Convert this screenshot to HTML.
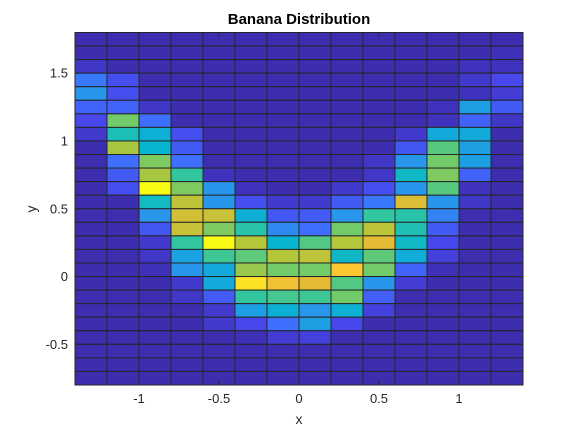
<!DOCTYPE html>
<html><head><meta charset="utf-8"><style>
body{margin:0;background:#fff;}
svg text{font-family:"Liberation Sans",sans-serif;}
</style></head><body>
<svg id="chart" width="577" height="433" viewBox="0 0 577 433" xmlns="http://www.w3.org/2000/svg">
<text x="299" y="24" text-anchor="middle" font-size="15" font-weight="bold" fill="#000">Banana Distribution</text>
<g id="cells"></g>
<rect x="75" y="32.5" width="448" height="352.5" fill="none" stroke="#262626" stroke-width="1"/>
<g id="ticks"></g>
<text x="299" y="424" text-anchor="middle" font-size="14" fill="#262626">x</text>
<text x="36" y="209" text-anchor="middle" font-size="14" fill="#262626" transform="rotate(-90 36 209)">y</text>
</svg>
<script>
const xEdges=[-1.4,-1.2,-1.0,-0.8,-0.6,-0.4,-0.2,0,0.2,0.4,0.6,0.8,1.0,1.2,1.4];
const yEdges=[1.8,1.7,1.6,1.5,1.4,1.3,1.2,1.1,1.0,0.9,0.8,0.7,0.6,0.5,0.4,0.3,0.2,0.1,0,-0.1,-0.2,-0.3,-0.4,-0.5,-0.6,-0.7,-0.8];
const values=[
[0.02,0.02,0.02,0.02,0.02,0.02,0.02,0.02,0.02,0.02,0.02,0.02,0.02,0.02],
[0.02,0.02,0.02,0.02,0.02,0.02,0.02,0.02,0.02,0.02,0.02,0.02,0.02,0.03],
[0.05,0.02,0.02,0.02,0.02,0.02,0.02,0.02,0.02,0.02,0.02,0.02,0.04,0.04],
[0.22,0.12,0.02,0.02,0.02,0.02,0.02,0.02,0.02,0.02,0.02,0.02,0.06,0.1],
[0.3,0.12,0.02,0.02,0.02,0.02,0.02,0.02,0.02,0.02,0.02,0.02,0.04,0.07],
[0.17,0.17,0.05,0.02,0.02,0.02,0.02,0.02,0.02,0.02,0.02,0.04,0.33,0.15],
[0.1,0.6,0.2,0.02,0.02,0.02,0.02,0.02,0.02,0.02,0.02,0.04,0.17,0.05],
[0.06,0.45,0.38,0.12,0.02,0.02,0.02,0.02,0.02,0.02,0.06,0.36,0.36,0.02],
[0.02,0.68,0.4,0.15,0.02,0.02,0.02,0.02,0.02,0.02,0.14,0.56,0.33,0.02],
[0.02,0.2,0.62,0.2,0.02,0.02,0.02,0.02,0.02,0.05,0.3,0.6,0.33,0.02],
[0.02,0.15,0.68,0.5,0.04,0.02,0.02,0.02,0.02,0.05,0.42,0.62,0.17,0.02],
[0.02,0.12,1.0,0.62,0.3,0.04,0.02,0.02,0.06,0.12,0.3,0.56,0.04,0.02],
[0.02,0.02,0.43,0.72,0.3,0.12,0.06,0.06,0.15,0.22,0.78,0.3,0.05,0.02],
[0.02,0.02,0.3,0.76,0.74,0.38,0.14,0.15,0.3,0.5,0.48,0.25,0.02,0.02],
[0.02,0.02,0.14,0.74,0.62,0.48,0.27,0.2,0.6,0.72,0.46,0.15,0.02,0.02],
[0.02,0.02,0.06,0.5,1.0,0.7,0.4,0.55,0.7,0.8,0.42,0.1,0.02,0.02],
[0.02,0.02,0.05,0.34,0.52,0.57,0.7,0.72,0.42,0.57,0.37,0.08,0.02,0.02],
[0.02,0.02,0.03,0.3,0.36,0.66,0.6,0.6,0.9,0.6,0.17,0.03,0.02,0.02],
[0.02,0.02,0.02,0.06,0.36,0.95,0.85,0.8,0.55,0.3,0.07,0.02,0.02,0.02],
[0.02,0.02,0.02,0.05,0.15,0.5,0.53,0.52,0.6,0.16,0.02,0.02,0.02,0.02],
[0.02,0.02,0.02,0.02,0.06,0.33,0.38,0.3,0.38,0.08,0.02,0.02,0.02,0.02],
[0.02,0.02,0.02,0.02,0.06,0.1,0.2,0.33,0.1,0.02,0.02,0.02,0.02,0.02],
[0.02,0.02,0.02,0.02,0.02,0.03,0.07,0.08,0.02,0.02,0.02,0.02,0.02,0.02],
[0.02,0.02,0.02,0.02,0.02,0.02,0.02,0.02,0.02,0.02,0.02,0.02,0.02,0.02],
[0.02,0.02,0.02,0.02,0.02,0.02,0.02,0.02,0.02,0.02,0.02,0.02,0.02,0.02],
[0.02,0.02,0.02,0.02,0.02,0.02,0.02,0.02,0.02,0.02,0.02,0.02,0.02,0.02]
];
const xTicks=[-1,-0.5,0,0.5,1];
const xTickLabels=["-1","-0.5","0","0.5","1"];
const yTicks=[-0.5,0,0.5,1,1.5];
const yTickLabels=["-0.5","0","0.5","1","1.5"];

const PL=75,PR=523,PT=32.5,PB=385;
const xMin=-1.4,xMax=1.4,yMin=-0.8,yMax=1.8;
function sx(v){return PL+(v-xMin)/(xMax-xMin)*(PR-PL);}
function sy(v){return PB-(v-yMin)/(yMax-yMin)*(PB-PT);}
const stops=[[58,38,160],[71,71,235],[62,111,255],[39,150,235],[8,181,208],[49,198,159],[113,203,105],[180,198,58],[228,188,52],[252,200,50],[249,251,21]];
function parula(t){t=Math.max(0,Math.min(1,t));const p=t*10,i=Math.min(9,Math.floor(p)),f=p-i;
const a=stops[i],b=stops[i+1];return `rgb(${a.map((c,k)=>Math.round(c+(b[k]-c)*f)).join(',')})`;}
const NS="http://www.w3.org/2000/svg";
const cells=document.getElementById('cells');
for(let r=0;r<values.length;r++){for(let c=0;c<values[r].length;c++){
const x0=sx(xEdges[c]),x1=sx(xEdges[c+1]),y0=sy(yEdges[r]),y1=sy(yEdges[r+1]);
const el=document.createElementNS(NS,'rect');
el.setAttribute('x',x0);el.setAttribute('y',y0);el.setAttribute('width',x1-x0);el.setAttribute('height',y1-y0);
el.setAttribute('fill',parula(values[r][c]));el.setAttribute('stroke','#262626');el.setAttribute('stroke-width','1');


cells.appendChild(el);}}
const tg=document.getElementById('ticks');
function tickLine(x1,y1,x2,y2){const l=document.createElementNS(NS,'line');
l.setAttribute('x1',x1);l.setAttribute('y1',y1);l.setAttribute('x2',x2);l.setAttribute('y2',y2);l.setAttribute('stroke','#262626');


tg.appendChild(l);}
xTicks.forEach((v,i)=>{const x=sx(v);
tickLine(x,PB,x,PB-4.5);tickLine(x,PT,x,PT+4.5);
const t=document.createElementNS(NS,'text');t.setAttribute('x',x);t.setAttribute('y',403);t.setAttribute('text-anchor','middle');t.setAttribute('font-size','13');t.setAttribute('fill','#262626');t.textContent=xTickLabels[i];


tg.appendChild(t);});
yTicks.forEach((v,i)=>{const y=sy(v);
tickLine(PL,y,PL+4.5,y);tickLine(PR,y,PR-4.5,y);
const t=document.createElementNS(NS,'text');t.setAttribute('x',68);t.setAttribute('y',y+4.5);t.setAttribute('text-anchor','end');t.setAttribute('font-size','13');t.setAttribute('fill','#262626');t.textContent=yTickLabels[i];


tg.appendChild(t);});
</script>
</body></html>
